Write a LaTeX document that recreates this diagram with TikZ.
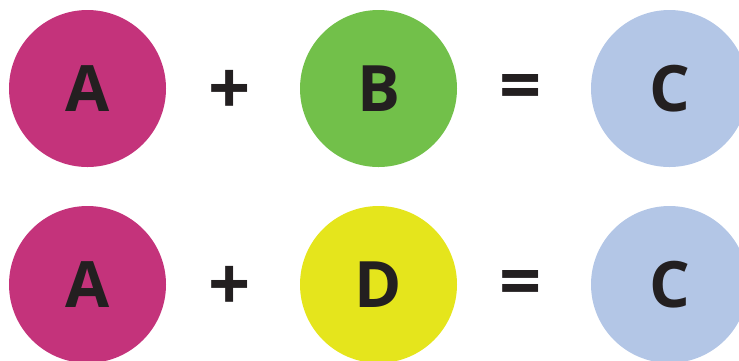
\documentclass[tikz,border=0pt]{standalone}
\usepackage{fontspec}
\setmainfont{Open Sans}[BoldFont={* Bold}]
\definecolor{ink}{HTML}{231F20}
\definecolor{magentaA}{HTML}{C4337B}
\definecolor{greenB}{HTML}{72C04A}
\definecolor{blueC}{HTML}{B3C6E6}
\definecolor{yellowD}{HTML}{E5E51C}
\tikzset{
  x=1pt, y=-1pt,
  ball/.style={circle, minimum size=157pt, inner sep=0pt, draw=none,
    font=\fontsize{64}{64}\selectfont\bfseries, text=ink},
  op/.style={inner sep=0pt, font=\fontsize{74}{74}\selectfont\bfseries, text=ink}
}
\begin{document}
\begin{tikzpicture}
\useasboundingbox (0,0) rectangle (739,360);
% first row: A + B = C
\node[ball, fill=magentaA] (a1) at (87.5,88.5) {A};
\node[op] (p1) at (229.5,92) {+};
\node[ball, fill=greenB] (b1) at (378.5,88.5) {B};
\node[op] (e1) at (520.5,93) {=};
\node[ball, fill=blueC] (c1) at (669.5,88.5) {C};
% second row: A + D = C
\node[ball, fill=magentaA] (a2) at (87.5,284.5) {A};
\node[op] (p2) at (229.5,288) {+};
\node[ball, fill=yellowD] (d2) at (378.5,284.5) {D};
\node[op] (e2) at (520.5,289) {=};
\node[ball, fill=blueC] (c2) at (669.5,284.5) {C};
\end{tikzpicture}
\end{document}
